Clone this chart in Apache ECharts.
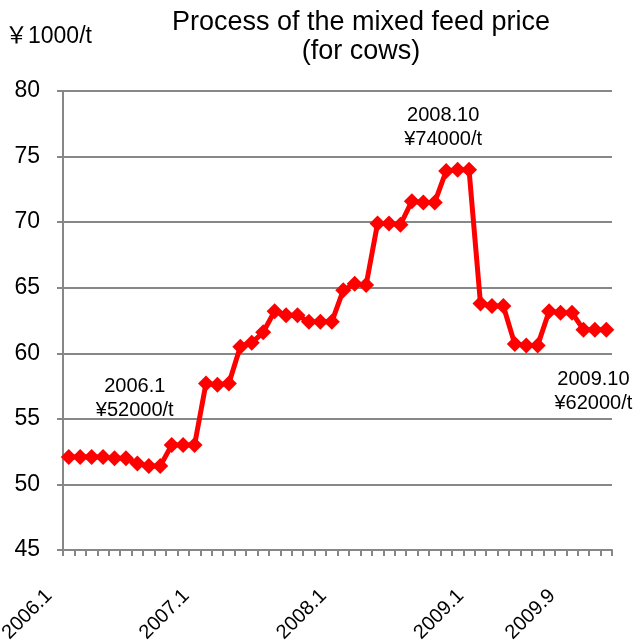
<!DOCTYPE html>
<html>
<head>
<meta charset="utf-8">
<script src="https://cdn.jsdelivr.net/npm/echarts@6/dist/echarts.min.js"></script>
<style>
  html, body { margin: 0; padding: 0; background: #fff; }
  #chart { width: 636px; height: 642px; }
</style>
</head>
<body>
<div id="chart"></div>
<script>
// months 2006.1 .. 2009.12
const years = [2006, 2007, 2008, 2009];
const months = [];
years.forEach(y => { for (let m = 1; m <= 12; m++) months.push(y + '.' + m); });

// price, 1000 yen per tonne
const price = [
  52.1, 52.1, 52.1, 52.1, 52.0, 52.0, 51.6, 51.4, 51.4, 53.0, 53.0, 53.0,
  57.7, 57.6, 57.7, 60.5, 60.8, 61.6, 63.2, 62.9, 62.9, 62.4, 62.4, 62.4,
  64.8, 65.3, 65.2, 69.9, 69.9, 69.8, 71.6, 71.5, 71.5, 73.9, 74.0, 74.0,
  63.8, 63.6, 63.6, 60.7, 60.6, 60.6, 63.2, 63.1, 63.1, 61.8, 61.8, 61.8
];

const shownLabels = ['2006.1', '2007.1', '2008.1', '2009.1', '2009.9'];

// annotations: month, text
const noteMonths = ['2006.1', '2008.10', '2009.10'];
const noteTexts = ['2006.1\n¥52000/t', '2008.10\n¥74000/t', '2009.10\n¥62000/t'];
const noteOffsets = [[66, -58], [-3, -44], [10, 62]];

const font = '"Liberation Sans", Arial, "Noto Sans CJK JP", sans-serif';
const gray = '#878787';

const chart = echarts.init(document.getElementById('chart'));
chart.setOption({
  animation: false,
  textStyle: { fontFamily: font },
  title: {
    text: 'Process of the mixed feed price\n(for cows)',
    left: 356,
    top: 3,
    textAlign: 'center',
    textStyle: { fontFamily: font, fontSize: 27, fontWeight: 'normal', color: '#000', lineHeight: 29 }
  },
  graphic: [{
    type: 'text',
    left: 5,
    top: 25,
    style: { text: '￥1000/t', font: '23px ' + font, fill: '#000' }
  }],
  grid: { left: 63, right: 24, top: 91, bottom: 92, containLabel: false, outerBoundsMode: 'none' },
  xAxis: {
    type: 'category',
    data: months,
    boundaryGap: true,
    axisLine: { lineStyle: { color: gray, width: 2 } },
    axisTick: { show: true, interval: 0, length: 6, lineStyle: { color: gray, width: 2 } },
    axisLabel: {
      interval: (i, v) => shownLabels.includes(v),
      rotate: 45,
      margin: 23,
      padding: [0, 28, 0, 0],
      fontSize: 20,
      color: '#000',
      fontFamily: font
    },
    splitLine: { show: false }
  },
  yAxis: {
    type: 'value',
    min: 45,
    max: 80,
    interval: 5,
    axisLine: { show: true, lineStyle: { color: gray, width: 2 } },
    axisTick: { show: true, length: 6, lineStyle: { color: gray, width: 2 } },
    axisLabel: { fontSize: 23, color: '#000', margin: 23, fontFamily: font },
    splitLine: { lineStyle: { color: gray, width: 2 } }
  },
  series: [{
    type: 'line',
    data: price,
    symbol: 'diamond',
    symbolSize: 16,
    showAllSymbol: true,
    color: '#ff0000',
    lineStyle: { color: '#ff0000', width: 5 },
    itemStyle: { color: '#ff0000' },
    markPoint: {
      symbol: 'circle',
      symbolSize: 1,
      itemStyle: { color: 'transparent' },
      label: { show: true, position: 'inside', color: '#000', fontSize: 20, lineHeight: 24, align: 'center', fontFamily: font },
      data: noteMonths.map((m, k) => ({
        coord: [m, price[months.indexOf(m)]],
        label: { formatter: noteTexts[k], offset: noteOffsets[k] }
      }))
    }
  }]
});
</script>
</body>
</html>
